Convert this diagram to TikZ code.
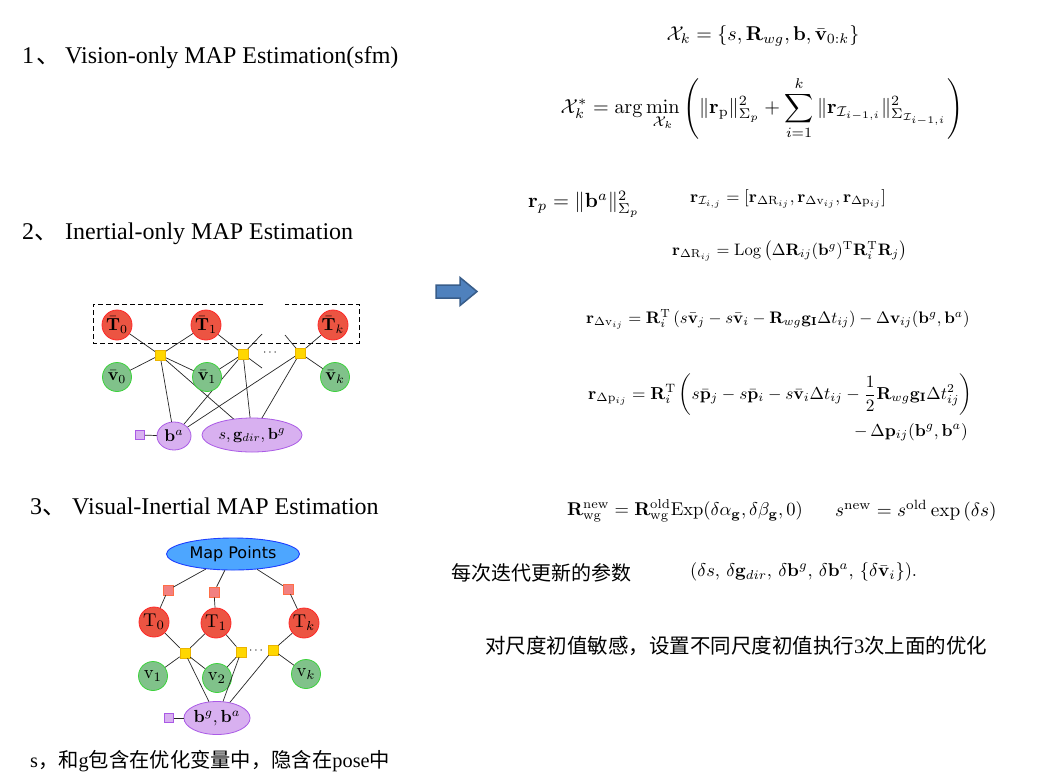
\documentclass[tikz,border=0pt]{standalone}
\usepackage{amsmath,amssymb}
\usepackage[no-math]{fontspec}
\newfontfamily\tms{Liberation Serif}
\newfontfamily\cjk{Noto Sans CJK SC}
\newfontfamily\djv{DejaVu Sans}
\usetikzlibrary{shapes.geometric}
\newcommand\mysz[2]{\scalebox{#1}{#2}}
\definecolor{rnode}{RGB}{236,84,66}
\definecolor{rborder}{RGB}{255,40,40}
\definecolor{gnode}{RGB}{128,194,138}
\definecolor{gborder}{RGB}{60,210,60}
\definecolor{ynode}{RGB}{255,215,0}
\definecolor{yborder}{RGB}{235,180,0}
\definecolor{pnode}{RGB}{216,176,240}
\definecolor{pborder}{RGB}{170,90,230}
\definecolor{bnode}{RGB}{77,166,255}
\definecolor{bborder}{RGB}{30,64,255}
\definecolor{knode}{RGB}{242,128,128}
\definecolor{kborder}{RGB}{255,110,70}
\definecolor{arrfill}{RGB}{79,129,189}
\definecolor{arrdraw}{RGB}{56,93,138}
\tikzset{
  redc/.style={circle,draw=rborder,fill=rnode,minimum size=30pt,inner sep=0pt,line width=0.8pt},
  grnc/.style={circle,draw=gborder,fill=gnode,minimum size=29pt,inner sep=0pt,line width=0.8pt},
  fac/.style={rectangle,draw=yborder,fill=ynode,minimum size=10pt,inner sep=0pt,line width=0.5pt},
  pfac/.style={rectangle,draw=kborder,fill=knode,minimum size=10pt,inner sep=0pt,line width=0.5pt},
  prior/.style={rectangle,draw=pborder,fill=pnode,minimum size=9pt,inner sep=0pt,line width=0.8pt},
  pell/.style={ellipse,draw=pborder,fill=pnode,inner sep=0pt,line width=0.8pt},
  edge/.style={draw=black!85,line width=0.7pt},
  head/.style={anchor=base west,inner sep=0pt,font=\tms\fontsize{24}{24}\selectfont},
  cjktext/.style={anchor=base west,inner sep=0pt,font=\cjk\fontsize{20}{20}\selectfont},
  eq/.style={inner sep=0pt}
}
\begin{document}
\begin{tikzpicture}[x=1pt,y=-1pt]
\useasboundingbox[fill=white] (0,0) rectangle (1040,777);

% headings
\node[head] (h1) at (22,63) {1\hspace{2pt}{\cjk 、}\hspace{5pt}Vision-only MAP Estimation(sfm)};
\node[head] (h2) at (22,239) {2{\cjk 、}\hspace{7pt}Inertial-only MAP Estimation};
\node[head] (h3) at (30,514) {3{\cjk 、}\hspace{6pt}Visual-Inertial MAP Estimation};

% ---------- diagram 2 ----------
\draw[dash pattern=on 5pt off 3pt,line width=0.8pt] (263,304) -- (93,304) -- (93,343) -- (359,343) -- (359,304) -- (285,304);
\coordinate (s2a) at (262,334);
\coordinate (s2b) at (262,368);
\coordinate (s3a) at (285,335);
\coordinate (cf1) at (160,355);
\coordinate (cf2) at (243,354);
\coordinate (cf3) at (300,353);
\coordinate (cba) at (174,436);
\coordinate (csg) at (252,435);
\draw[edge] (117,325) -- (cf1) -- (206,325) -- (cf2);
\draw[edge] (117,377) -- (cf1) -- (207,377) -- (cf2);
\draw[edge] (cf1) -- (cba) -- (cf2) -- (csg) -- (cf1);
\draw[edge] (cf2) -- (s2a);
\draw[edge] (cf2) -- (s2b);
\draw[edge] (333,325) -- (cf3) -- (335,377);
\draw[edge] (cba) -- (cf3) -- (csg);
\draw[edge] (cf3) -- (s3a);
\draw[edge] (140,435) -- (cba);
\node[redc] (T0) at (117,325) {\mysz{1.75}{$\bar{\mathbf{T}}_0$}};
\node[redc] (T1) at (206,325) {\mysz{1.75}{$\bar{\mathbf{T}}_1$}};
\node[redc] (Tk) at (333,325) {\mysz{1.75}{$\bar{\mathbf{T}}_k$}};
\node[grnc] (v0) at (117,377) {\mysz{1.75}{$\bar{\mathbf{v}}_0$}};
\node[grnc] (v1) at (207,377) {\mysz{1.75}{$\bar{\mathbf{v}}_1$}};
\node[grnc] (vk) at (335,377) {\mysz{1.75}{$\bar{\mathbf{v}}_k$}};
\node[pell,minimum width=34pt,minimum height=28pt] (ba) at (cba) {\mysz{1.7}{$\mathbf{b}^a$}};
\node[pell,minimum width=100pt,minimum height=34pt] (sg) at (csg) {\mysz{1.6}{$s,\mathbf{g}_{dir},\mathbf{b}^g$}};
\node[prior] (pa) at (140,435) {};
\node[fac] (f1) at (cf1) {};
\node[fac] (f2) at (cf2) {};
\node[fac] (f3) at (cf3) {};
\node[inner sep=0pt] (dots2) at (271,353) {\mysz{1.2}{$\cdots$}};

% ---------- diagram 3 ----------
\node[ellipse,draw=bborder,fill=bnode,line width=0.9pt,minimum width=133pt,minimum height=32pt,inner sep=0pt,font=\djv\fontsize{16}{16}\selectfont] (mp) at (233,554) {Map Points};
\node[pfac] (p0) at (168,590) {};
\node[pfac] (p1) at (214,592) {};
\node[pfac] (pk) at (288,589) {};
\node[redc] (U0) at (154,622) {\mysz{1.85}{$\mathrm{T}_0$}};
\node[redc] (U1) at (216,623) {\mysz{1.85}{$\mathrm{T}_1$}};
\node[redc] (Uk) at (304,623) {\mysz{1.85}{$\mathrm{T}_k$}};
\node[fac] (g1) at (185,653) {};
\node[fac] (g2) at (241,652) {};
\node[fac] (g3) at (273,650) {};
\node[inner sep=0pt] (dots3) at (257,651) {\mysz{1.2}{$\cdots$}};
\node[grnc] (w1) at (153,676) {\mysz{1.85}{$\mathrm{v}_1$}};
\node[grnc] (w2) at (217,678) {\mysz{1.85}{$\mathrm{v}_2$}};
\node[grnc] (wk) at (306,674) {\mysz{1.85}{$\mathrm{v}_k$}};
\node[pell,minimum width=62pt,minimum height=33pt] (bb) at (217,718) {\mysz{1.75}{$\mathbf{b}^g,\mathbf{b}^a$}};
\node[prior] (pb) at (169,718) {};
\draw[edge] (mp) -- (p0);
\draw[edge] (p0) -- (U0);
\draw[edge] (mp) -- (p1);
\draw[edge] (p1) -- (U1);
\draw[edge] (mp) -- (pk);
\draw[edge] (pk) -- (Uk);
\draw[edge] (U0) -- (g1);
\draw[edge] (U1) -- (g1);
\draw[edge] (g1) -- (w1);
\draw[edge] (g1) -- (w2);
\draw[edge] (g1) -- (bb);
\draw[edge] (U1) -- (g2);
\draw[edge] (g2) -- (w2);
\draw[edge] (g2) -- (bb);
\draw[edge] (Uk) -- (g3);
\draw[edge] (g3) -- (wk);
\draw[edge] (g3) -- (bb);
\draw[edge] (pb) -- (bb);

% bottom note
\node[anchor=base west,inner sep=0pt,font=\fontsize{20.3}{21}\selectfont] (note) at (30,767) {\tms s\cjk ，和\tms g\cjk 包含在优化变量中，隐含在\tms pose\cjk 中};

% ---------- arrow ----------
\draw[fill=arrfill,draw=arrdraw,line width=1.5pt,line join=miter] (436,285) -- (460,285) -- (460,277.5) -- (477,291.5) -- (460,305.5) -- (460,298) -- (436,298) -- cycle;

% ---------- formulas ----------
\node[eq] (e1) at (763,36) {\mysz{2.0}{$\mathcal{X}_k=\{s,\mathbf{R}_{wg},\mathbf{b},\bar{\mathbf{v}}_{0:k}\}$}};
\node[eq] (e2) at (762,108) {\mysz{2.02}{$\displaystyle \mathcal{X}_k^{*}=\arg\min_{\mathcal{X}_k}\left(\|\mathbf{r}_{\mathrm{p}}\|^2_{\Sigma_p}+\sum_{i=1}^{k}\|\mathbf{r}_{\mathcal{I}_{i-1,i}}\|^2_{\Sigma_{\mathcal{I}_{i-1,i}}}\right)$}};
\node[eq,anchor=west] (e3) at (528,204) {\mysz{2.05}{$\mathbf{r}_p=\|\mathbf{b}^a\|^2_{\Sigma_p}$}};
\node[eq,anchor=west] (e4) at (690,199) {\mysz{1.7}{$\mathbf{r}_{\mathcal{I}_{i,j}}=[\mathbf{r}_{\Delta\mathrm{R}_{ij}},\mathbf{r}_{\Delta\mathrm{v}_{ij}},\mathbf{r}_{\Delta\mathrm{p}_{ij}}]$}};
\node[eq,anchor=west] (e5) at (672,251) {\mysz{1.66}{$\mathbf{r}_{\Delta\mathrm{R}_{ij}}=\operatorname{Log}\left(\Delta\mathbf{R}_{ij}(\mathbf{b}^g)^{\mathrm{T}}\mathbf{R}_i^{\mathrm{T}}\mathbf{R}_j\right)$}};
\node[eq,anchor=west] (e6) at (586,319) {\mysz{1.67}{$\mathbf{r}_{\Delta\mathrm{v}_{ij}}=\mathbf{R}_i^{\mathrm{T}}\left(s\bar{\mathbf{v}}_j-s\bar{\mathbf{v}}_i-\mathbf{R}_{wg}\mathbf{g}_{\mathbf{I}}\Delta t_{ij}\right)-\Delta\mathbf{v}_{ij}(\mathbf{b}^g,\mathbf{b}^a)$}};
\node[eq,anchor=west] (e7) at (588,395) {\mysz{1.73}{$\displaystyle\mathbf{r}_{\Delta\mathrm{p}_{ij}}=\mathbf{R}_i^{\mathrm{T}}\left(s\bar{\mathbf{p}}_j-s\bar{\mathbf{p}}_i-s\bar{\mathbf{v}}_i\Delta t_{ij}-\frac{1}{2}\mathbf{R}_{wg}\mathbf{g}_{\mathbf{I}}\Delta t_{ij}^2\right)$}};
\node[eq,anchor=east] (e8) at (968,432) {\mysz{1.73}{$-\,\Delta\mathbf{p}_{ij}(\mathbf{b}^g,\mathbf{b}^a)$}};
\node[eq,anchor=west] (e9) at (567,511) {\mysz{1.85}{$\mathbf{R}_{\mathrm{wg}}^{\mathrm{new}}=\mathbf{R}_{\mathrm{wg}}^{\mathrm{old}}\mathrm{Exp}(\delta\alpha_{\mathbf{g}},\delta\beta_{\mathbf{g}},0)$}};
\node[eq,anchor=west] (e10) at (835,511) {\mysz{1.92}{$s^{\mathrm{new}}=s^{\mathrm{old}}\exp\left(\delta s\right)$}};
\node[cjktext] (c1) at (451,580) {每次迭代更新的参数};
\node[eq,anchor=west] (e11) at (690,572) {\mysz{1.85}{$(\delta s,\,\delta\mathbf{g}_{dir},\,\delta\mathbf{b}^g,\,\delta\mathbf{b}^a,\,\{\delta\bar{\mathbf{v}}_i\}).$}};
\node[cjktext,font=\cjk\fontsize{20.5}{21}\selectfont] (c2) at (485,653) {对尺度初值敏感，设置不同尺度初值执行{\tms 3}次上面的优化};
\end{tikzpicture}
\end{document}
